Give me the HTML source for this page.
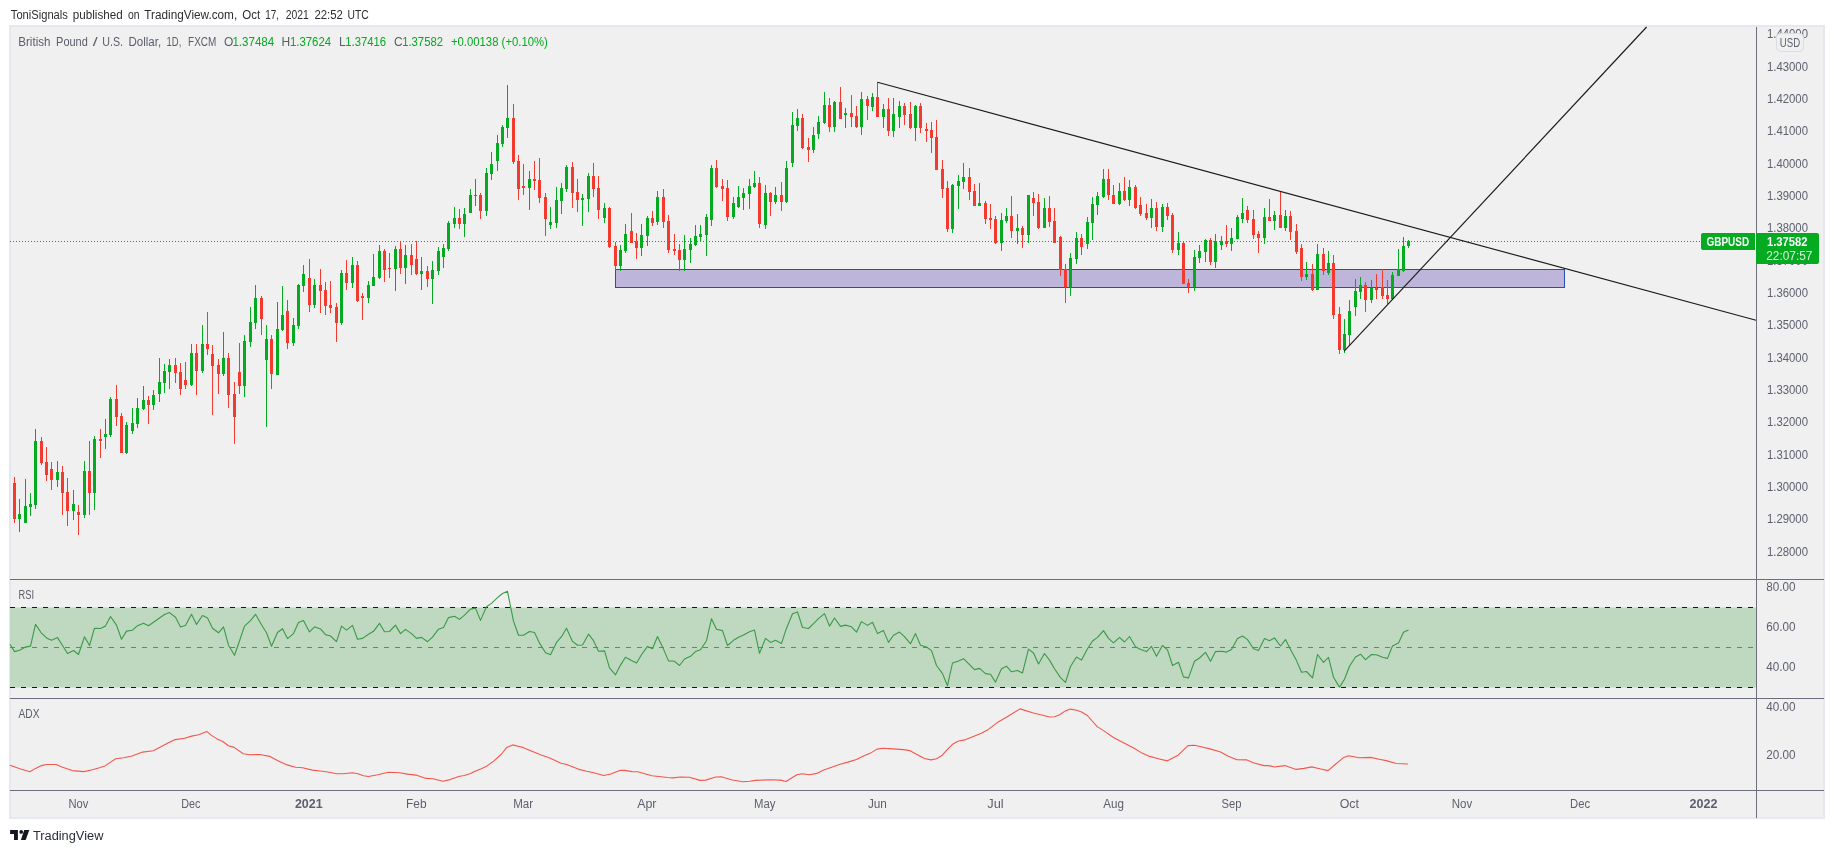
<!DOCTYPE html>
<html lang="en"><head><meta charset="utf-8"><title>GBPUSD chart</title>
<style>html,body{margin:0;padding:0;background:#fff;}body{width:1834px;height:853px;overflow:hidden;}svg{display:block;will-change:transform;}text{font-family:"Liberation Sans", sans-serif;font-size:12px;}</style></head><body>
<svg width="1834" height="853" viewBox="0 0 1834 853">
<rect x="0" y="0" width="1834" height="853" fill="#ffffff"/>
<g fill="#2e2e2e">
<text x="10.8" y="18.8" textLength="57.1" lengthAdjust="spacingAndGlyphs">ToniSignals</text>
<text x="72.8" y="18.8" textLength="49.9" lengthAdjust="spacingAndGlyphs">published</text>
<text x="127.9" y="18.8" textLength="11.6" lengthAdjust="spacingAndGlyphs">on</text>
<text x="144.3" y="18.8" textLength="92.9" lengthAdjust="spacingAndGlyphs">TradingView.com,</text>
<text x="242.3" y="18.8" textLength="17.9" lengthAdjust="spacingAndGlyphs">Oct</text>
<text x="265.3" y="18.8" textLength="13.8" lengthAdjust="spacingAndGlyphs">17,</text>
<text x="285.8" y="18.8" textLength="23.1" lengthAdjust="spacingAndGlyphs">2021</text>
<text x="314.4" y="18.8" textLength="28.5" lengthAdjust="spacingAndGlyphs">22:52</text>
<text x="347.6" y="18.8" textLength="21.2" lengthAdjust="spacingAndGlyphs">UTC</text>
</g>
<rect x="10" y="26" width="1814" height="792" fill="#f0f0f0" stroke="#e6e8ef" stroke-width="2"/>
<rect x="615.5" y="269.5" width="949" height="18" fill="#beb6da" stroke="#2450b4" stroke-width="1"/>
<path d="M14.5 477V523M41.5 437V465M46.5 447V481M51.5 462V490M62.5 466V515M67.5 478V526M78.5 505V535M89.5 441V515M100.5 429V458M116.5 385V426M121.5 413V453M148.5 396V424M175.5 358V383M180.5 363V395M185.5 362V389M196.5 344V395M207.5 312V355M212.5 345V415M218.5 359V394M228.5 353V408M234.5 382V444M239.5 343V394M261.5 296V335M271.5 335V389M287.5 300V349M309.5 259V312M320.5 269V313M325.5 282V315M330.5 281V313M336.5 303V342M346.5 260V290M357.5 261V302M362.5 293V320M384.5 249V282M389.5 253V278M400.5 241V274M411.5 244V275M416.5 241V275M427.5 266V287M459.5 209V229M480.5 193V219M513.5 104V164M518.5 155V200M523.5 164V195M534.5 161V190M539.5 158V203M545.5 193V236M572.5 162V208M577.5 179V212M593.5 163V197M598.5 176V219M609.5 207V248M615.5 242V270M631.5 213V243M636.5 233V259M652.5 211V226M663.5 189V228M668.5 215V253M674.5 234V255M679.5 244V271M716.5 160V188M722.5 179V201M727.5 180V221M759.5 177V228M770.5 192V216M781.5 182V211M802.5 114V149M808.5 138V162M829.5 98V132M840.5 87V119M851.5 95V127M856.5 106V128M867.5 96V120M877.5 82V117M888.5 98V136M904.5 103V125M910.5 102V129M920.5 103V133M926.5 123V142M931.5 122V153M936.5 120V170M942.5 160V198M947.5 181V232M969.5 168V200M974.5 184V206M985.5 201V224M990.5 204V229M995.5 216V244M1011.5 196V238M1022.5 226V248M1033.5 192V216M1038.5 194V229M1049.5 196V227M1054.5 208V243M1060.5 236V276M1065.5 264V303M1081.5 234V255M1108.5 169V200M1113.5 185V204M1124.5 177V201M1135.5 185V209M1140.5 197V216M1146.5 204V220M1156.5 202V231M1167.5 203V220M1172.5 213V253M1183.5 242V284M1188.5 279V293M1210.5 238V265M1226.5 225V247M1247.5 206V223M1253.5 210V239M1258.5 231V253M1269.5 199V221M1280.5 191V228M1290.5 211V240M1296.5 224V254M1301.5 244V281M1312.5 264V291M1323.5 248V275M1333.5 255V319M1339.5 307V354M1365.5 282V312M1376.5 274V299M1382.5 269V299M1387.5 280V304" stroke="#f23a2e" stroke-width="1" fill="none" shape-rendering="crispEdges"/>
<path d="M13 483h3v36h-3zM40 441h3v22h-3zM45 462h3v13h-3zM50 469h3v11h-3zM61 472h3v21h-3zM66 492h3v19h-3zM77 512h3v3h-3zM88 471h3v22h-3zM99 439h3v2h-3zM115 399h3v18h-3zM120 416h3v37h-3zM147 400h3v5h-3zM174 365h3v8h-3zM179 372h3v17h-3zM184 380h3v5h-3zM195 353h3v18h-3zM206 344h3v5h-3zM211 354h3v12h-3zM217 365h3v9h-3zM227 358h3v37h-3zM233 394h3v23h-3zM238 372h3v14h-3zM260 298h3v21h-3zM270 339h3v35h-3zM286 311h3v32h-3zM308 278h3v27h-3zM319 285h3v6h-3zM324 290h3v16h-3zM329 305h3v3h-3zM335 307h3v16h-3zM345 273h3v10h-3zM356 265h3v36h-3zM361 296h3v2h-3zM383 251h3v19h-3zM388 268h3v1h-3zM399 249h3v19h-3zM410 255h3v10h-3zM415 259h3v15h-3zM426 271h3v8h-3zM458 218h3v6h-3zM479 195h3v16h-3zM512 118h3v44h-3zM517 161h3v28h-3zM522 186h3v2h-3zM533 179h3v2h-3zM538 180h3v18h-3zM544 197h3v22h-3zM571 167h3v26h-3zM576 192h3v8h-3zM592 176h3v13h-3zM597 188h3v22h-3zM608 208h3v39h-3zM614 246h3v20h-3zM630 231h3v12h-3zM635 241h3v7h-3zM651 218h3v5h-3zM662 197h3v25h-3zM667 221h3v29h-3zM673 249h3v2h-3zM678 250h3v10h-3zM715 168h3v19h-3zM721 186h3v3h-3zM726 188h3v29h-3zM758 183h3v41h-3zM769 193h3v9h-3zM780 195h3v7h-3zM801 118h3v30h-3zM807 147h3v3h-3zM828 105h3v22h-3zM839 102h3v17h-3zM850 113h3v4h-3zM855 116h3v11h-3zM866 99h3v7h-3zM876 97h3v20h-3zM887 109h3v22h-3zM903 106h3v9h-3zM909 114h3v14h-3zM919 106h3v22h-3zM925 129h3v2h-3zM930 130h3v8h-3zM935 137h3v33h-3zM941 169h3v20h-3zM946 188h3v41h-3zM968 177h3v15h-3zM973 191h3v15h-3zM984 203h3v16h-3zM989 218h3v2h-3zM994 219h3v24h-3zM1010 216h3v15h-3zM1021 228h3v7h-3zM1032 198h3v5h-3zM1037 202h3v26h-3zM1048 208h3v14h-3zM1053 221h3v22h-3zM1059 237h3v33h-3zM1064 269h3v18h-3zM1080 238h3v9h-3zM1107 179h3v16h-3zM1112 195h3v9h-3zM1123 191h3v9h-3zM1134 187h3v21h-3zM1139 205h3v9h-3zM1145 213h3v5h-3zM1155 208h3v19h-3zM1166 207h3v9h-3zM1171 215h3v35h-3zM1182 243h3v41h-3zM1187 283h3v4h-3zM1209 240h3v22h-3zM1225 241h3v3h-3zM1246 210h3v10h-3zM1252 219h3v16h-3zM1257 234h3v4h-3zM1268 217h3v4h-3zM1279 215h3v13h-3zM1289 216h3v16h-3zM1295 231h3v21h-3zM1300 248h3v29h-3zM1311 274h3v16h-3zM1322 254h3v17h-3zM1332 263h3v52h-3zM1338 314h3v36h-3zM1364 285h3v15h-3zM1375 288h3v2h-3zM1381 287h3v9h-3zM1386 295h3v4h-3z" fill="#f23a2e" shape-rendering="crispEdges"/>
<path d="M19.5 499V532M25.5 479V523M30.5 493V516M35.5 429V509M57.5 461V487M73.5 490V520M84.5 461V518M94.5 436V510M105.5 419V449M110.5 397V437M126.5 422V454M132.5 408V434M137.5 398V428M143.5 386V410M153.5 390V410M159.5 358V402M164.5 364V393M169.5 359V389M191.5 344V386M202.5 325V373M223.5 332V376M244.5 335V397M250.5 307V347M255.5 285V329M266.5 325V427M277.5 302V375M282.5 286V331M293.5 318V346M298.5 284V329M303.5 265V292M314.5 279V308M341.5 270V325M352.5 257V288M368.5 281V303M373.5 254V286M379.5 245V279M395.5 246V291M405.5 245V284M421.5 257V290M432.5 261V304M438.5 247V275M443.5 244V268M448.5 221V251M454.5 207V228M464.5 208V237M470.5 189V213M475.5 179V206M486.5 168V216M491.5 152V180M497.5 135V171M502.5 125V147M507.5 85V138M529.5 171V210M550.5 207V229M556.5 187V228M561.5 183V214M566.5 165V192M582.5 194V226M588.5 173V212M604.5 203V223M620.5 245V271M625.5 224V253M641.5 224V256M647.5 216V246M657.5 191V225M684.5 235V271M690.5 238V263M695.5 225V246M700.5 225V242M706.5 214V256M711.5 165V226M733.5 197V219M738.5 186V208M743.5 188V210M749.5 179V209M754.5 171V188M765.5 185V229M775.5 187V204M786.5 161V203M792.5 112V167M797.5 109V131M813.5 127V153M818.5 116V139M824.5 92V124M834.5 101V132M845.5 108V128M861.5 92V135M872.5 93V111M883.5 104V128M893.5 98V137M899.5 101V128M915.5 105V141M952.5 184V233M958.5 175V209M963.5 163V189M979.5 183V206M1001.5 213V251M1006.5 208V223M1017.5 214V244M1028.5 195V243M1044.5 198V228M1070.5 253V296M1076.5 232V264M1087.5 217V249M1092.5 197V240M1097.5 192V215M1103.5 169V198M1119.5 183V205M1129.5 180V206M1151.5 199V228M1162.5 204V232M1178.5 232V255M1194.5 250V291M1199.5 245V263M1205.5 239V262M1215.5 234V268M1221.5 236V250M1231.5 228V251M1237.5 215V239M1242.5 198V223M1264.5 208V244M1274.5 211V230M1285.5 210V231M1306.5 262V280M1317.5 244V290M1328.5 251V275M1344.5 319V353M1349.5 300V346M1355.5 279V316M1360.5 277V299M1371.5 280V303M1392.5 272V300M1398.5 249V276M1403.5 237V272M1408.5 240V248" stroke="#04aa1f" stroke-width="1" fill="none" shape-rendering="crispEdges"/>
<path d="M18 514h3v5h-3zM24 506h3v17h-3zM29 504h3v3h-3zM34 441h3v64h-3zM56 472h3v8h-3zM72 504h3v7h-3zM83 471h3v44h-3zM93 439h3v54h-3zM104 434h3v3h-3zM109 399h3v36h-3zM125 425h3v28h-3zM131 423h3v8h-3zM136 408h3v16h-3zM142 400h3v9h-3zM152 395h3v10h-3zM158 382h3v12h-3zM163 371h3v12h-3zM168 365h3v7h-3zM190 353h3v32h-3zM201 344h3v27h-3zM222 358h3v16h-3zM243 341h3v45h-3zM249 322h3v20h-3zM254 298h3v25h-3zM265 339h3v21h-3zM276 329h3v46h-3zM281 315h3v15h-3zM292 325h3v18h-3zM297 285h3v41h-3zM302 274h3v12h-3zM313 285h3v20h-3zM340 273h3v50h-3zM351 265h3v18h-3zM367 285h3v13h-3zM372 277h3v9h-3zM378 251h3v27h-3zM394 249h3v20h-3zM404 255h3v13h-3zM420 271h3v3h-3zM431 270h3v9h-3zM437 251h3v20h-3zM442 248h3v9h-3zM447 223h3v26h-3zM453 218h3v6h-3zM463 214h3v10h-3zM469 195h3v18h-3zM474 195h3v1h-3zM485 173h3v38h-3zM490 164h3v10h-3zM496 143h3v18h-3zM501 127h3v17h-3zM506 118h3v10h-3zM528 179h3v9h-3zM549 222h3v3h-3zM555 200h3v23h-3zM560 188h3v13h-3zM565 167h3v22h-3zM581 198h3v2h-3zM587 176h3v23h-3zM603 208h3v10h-3zM619 250h3v16h-3zM624 234h3v17h-3zM640 235h3v13h-3zM646 218h3v18h-3zM656 197h3v25h-3zM683 249h3v11h-3zM689 244h3v6h-3zM694 236h3v9h-3zM699 234h3v3h-3zM705 217h3v18h-3zM710 168h3v52h-3zM732 203h3v14h-3zM737 197h3v10h-3zM742 193h3v5h-3zM748 186h3v8h-3zM753 183h3v4h-3zM764 193h3v32h-3zM774 195h3v7h-3zM785 168h3v34h-3zM791 125h3v38h-3zM796 118h3v8h-3zM812 135h3v15h-3zM817 122h3v12h-3zM823 105h3v18h-3zM833 102h3v25h-3zM844 113h3v2h-3zM860 99h3v28h-3zM871 97h3v10h-3zM882 109h3v8h-3zM892 114h3v17h-3zM898 106h3v11h-3zM914 106h3v22h-3zM951 185h3v44h-3zM957 181h3v5h-3zM962 177h3v5h-3zM978 203h3v3h-3zM1000 220h3v23h-3zM1005 216h3v5h-3zM1016 228h3v3h-3zM1027 195h3v40h-3zM1043 208h3v20h-3zM1069 258h3v29h-3zM1075 238h3v21h-3zM1086 222h3v22h-3zM1091 204h3v19h-3zM1096 196h3v9h-3zM1102 179h3v18h-3zM1118 191h3v13h-3zM1128 187h3v13h-3zM1150 208h3v10h-3zM1161 207h3v20h-3zM1177 243h3v7h-3zM1193 257h3v30h-3zM1198 251h3v7h-3zM1204 240h3v12h-3zM1214 241h3v21h-3zM1220 241h3v4h-3zM1230 238h3v6h-3zM1236 217h3v22h-3zM1241 213h3v6h-3zM1263 217h3v21h-3zM1273 215h3v6h-3zM1284 216h3v12h-3zM1305 274h3v3h-3zM1316 254h3v36h-3zM1327 263h3v10h-3zM1343 334h3v16h-3zM1348 311h3v24h-3zM1354 291h3v16h-3zM1359 285h3v7h-3zM1370 288h3v12h-3zM1391 275h3v24h-3zM1397 269h3v7h-3zM1402 246h3v25h-3zM1407 241h3v5h-3z" fill="#04aa1f" shape-rendering="crispEdges"/>
<path d="M10 241.5H1701" stroke="#04aa1f" stroke-width="1" stroke-dasharray="1 2" shape-rendering="crispEdges"/>
<g stroke="#1b1b1b" stroke-width="1.15" fill="none">
<line x1="877.5" y1="82.3" x2="1756" y2="320.2"/>
<line x1="1344.2" y1="351.2" x2="1646.6" y2="27"/>
</g>
<rect x="10" y="607.5" width="1746" height="80" fill="#bfd8c0"/>
<g stroke="#10180f" stroke-width="1" stroke-dasharray="5 6" shape-rendering="crispEdges">
<path d="M10 607.5H1756"/>
<path d="M10 687.5H1756"/>
</g>
<path d="M10 647.5H1756" stroke="#5f8a63" stroke-width="1" stroke-dasharray="5 6" shape-rendering="crispEdges"/>
<polyline fill="none" stroke="#3a9a48" stroke-width="1.1" stroke-linejoin="round" points="10,644.2 14.5,651.6 19.5,650.2 25.5,647.1 30.5,646.1 35.5,624.4 41.5,633.2 46.5,637.9 51.5,640.3 57.5,637.6 62.5,645.5 67.5,653.5 73.5,650.5 78.5,654.5 84.5,636.7 89.5,645.5 94.5,628.2 100.5,628.5 105.5,626.1 110.5,616.5 116.5,625.1 121.5,639.3 126.5,631.1 132.5,630.2 137.5,625.7 143.5,623.3 148.5,625.7 153.5,622.3 159.5,618.0 164.5,614.5 169.5,612.6 175.5,617.2 180.5,627.1 185.5,625.4 191.5,614.3 196.5,624.4 202.5,615.5 207.5,617.9 212.5,628.2 218.5,632.8 223.5,626.8 228.5,645.2 234.5,655.2 239.5,641.0 244.5,626.1 250.5,620.7 255.5,614.3 261.5,624.7 266.5,632.8 271.5,646.2 277.5,632.5 282.5,628.7 287.5,638.6 293.5,633.6 298.5,622.6 303.5,620.4 309.5,631.9 314.5,626.8 320.5,628.9 325.5,634.6 330.5,636.0 336.5,641.7 341.5,626.1 346.5,630.1 352.5,625.4 357.5,639.3 362.5,638.4 368.5,634.2 373.5,631.3 379.5,623.3 384.5,631.8 389.5,631.5 395.5,625.1 400.5,633.6 405.5,629.4 411.5,633.6 416.5,638.4 421.5,637.4 427.5,641.7 432.5,637.2 438.5,629.2 443.5,627.5 448.5,617.6 454.5,616.2 459.5,619.4 464.5,615.2 470.5,609.1 475.5,608.1 480.5,620.4 486.5,606.7 491.5,603.4 497.5,597.7 502.5,593.5 507.5,591.3 513.5,621.1 518.5,635.3 523.5,635.3 529.5,631.5 534.5,632.5 539.5,643.1 545.5,652.8 550.5,654.8 556.5,642.4 561.5,636.7 566.5,628.2 572.5,641.4 577.5,645.2 582.5,645.0 588.5,634.2 593.5,640.7 598.5,651.3 604.5,650.9 609.5,667.9 615.5,674.8 620.5,665.1 625.5,657.3 631.5,660.6 636.5,663.0 641.5,654.8 647.5,646.4 652.5,648.8 657.5,636.5 663.5,649.1 668.5,660.9 674.5,661.3 679.5,665.5 684.5,659.0 690.5,656.3 695.5,651.6 700.5,649.8 706.5,640.7 711.5,618.7 716.5,629.2 722.5,630.6 727.5,645.5 733.5,640.3 738.5,637.2 743.5,635.0 749.5,631.8 754.5,630.1 759.5,653.3 765.5,638.4 770.5,642.4 775.5,640.3 781.5,643.4 786.5,628.2 792.5,613.8 797.5,611.9 802.5,627.5 808.5,628.5 813.5,623.7 818.5,618.7 824.5,613.6 829.5,626.1 834.5,618.0 840.5,626.4 845.5,625.1 851.5,626.8 856.5,632.2 861.5,621.6 867.5,625.4 872.5,622.3 877.5,633.6 883.5,630.6 888.5,642.4 893.5,635.3 899.5,632.1 904.5,636.7 910.5,643.8 915.5,633.6 920.5,645.2 926.5,647.0 931.5,650.6 936.5,665.5 942.5,673.6 947.5,685.7 952.5,663.0 958.5,660.9 963.5,658.7 969.5,664.7 974.5,669.6 979.5,668.4 985.5,673.6 990.5,674.3 995.5,682.1 1001.5,668.7 1006.5,666.2 1011.5,671.8 1017.5,670.5 1022.5,672.9 1028.5,649.1 1033.5,653.0 1038.5,664.0 1044.5,653.5 1049.5,660.1 1054.5,668.7 1060.5,677.6 1065.5,682.4 1070.5,666.5 1076.5,657.0 1081.5,660.1 1087.5,648.8 1092.5,641.0 1097.5,637.4 1103.5,630.6 1108.5,638.4 1113.5,642.8 1119.5,637.4 1124.5,642.0 1129.5,636.5 1135.5,646.7 1140.5,649.5 1146.5,651.6 1151.5,646.4 1156.5,656.2 1162.5,645.5 1167.5,649.8 1172.5,665.5 1178.5,662.3 1183.5,676.9 1188.5,677.9 1194.5,661.3 1199.5,658.0 1205.5,652.3 1210.5,661.3 1215.5,651.6 1221.5,651.3 1226.5,652.1 1231.5,649.5 1237.5,638.4 1242.5,636.0 1247.5,639.6 1253.5,648.8 1258.5,650.6 1264.5,638.6 1269.5,640.7 1274.5,637.9 1280.5,646.0 1285.5,639.6 1290.5,649.5 1296.5,660.6 1301.5,672.2 1306.5,671.5 1312.5,677.9 1317.5,654.5 1323.5,662.3 1328.5,657.3 1333.5,677.2 1339.5,687.1 1344.5,679.3 1349.5,666.2 1355.5,657.0 1360.5,654.2 1365.5,659.7 1371.5,654.5 1376.5,654.8 1382.5,657.3 1387.5,658.4 1392.5,646.0 1398.5,643.1 1403.5,632.2 1408.5,630.1"/>
<polyline fill="none" stroke="#f4564c" stroke-width="1.1" stroke-linejoin="round" points="10,765.2 19.9,768.7 29.9,771.7 35.5,768.4 41.5,765.6 46.5,764.5 56.1,764.5 62.5,767.3 72.4,770.6 83.8,771.6 92.3,769.7 99.4,767.7 105.0,765.9 110.7,762.1 115.7,758.8 123.5,757.8 132.0,756.0 142.6,752.1 153.3,750.7 160.4,747.0 168.9,742.5 175.2,739.6 184.5,738.2 191.6,736.1 198.7,734.7 206.7,731.4 211.4,735.4 217.1,738.9 222.8,741.5 228.4,745.7 234.1,747.4 243.3,753.8 249.7,754.8 259.6,754.5 270.0,756.4 278.4,760.9 287.0,764.9 295.5,767.3 302.6,767.7 312.5,770.1 322.4,771.3 329.5,772.3 336.6,773.7 343.7,773.7 352.2,772.7 357.9,773.7 363.5,775.8 368.5,776.5 377.7,774.7 388.4,772.3 399.7,772.7 407.5,774.1 416.0,775.1 426.0,778.4 433.0,778.7 443.0,781.2 450.1,779.6 458.6,776.5 464.3,775.5 469.9,773.7 475.6,770.9 481.3,768.7 487.0,765.9 494.0,760.9 501.1,754.5 506.8,747.4 512.8,744.9 520.0,746.7 522.8,747.4 531.3,751.0 539.8,754.5 549.7,758.1 561.1,763.3 566.7,764.5 578.1,769.1 586.6,771.3 593.7,772.7 603.6,775.5 610.7,774.0 619.9,770.4 624.9,770.4 632.0,771.6 637.7,771.8 644.8,773.7 651.8,775.8 658.9,776.5 667.4,777.5 673.1,777.9 680.2,777.0 689.4,777.2 700.1,780.4 705.7,780.1 715.7,777.0 721.3,776.8 731.3,779.8 742.6,781.8 749.7,781.2 755.4,780.4 769.9,779.8 780.6,780.1 786.0,781.5 791.2,778.2 796.9,774.7 801.8,773.7 809.6,774.7 816.7,773.4 823.8,769.9 832.3,767.0 840.1,764.2 847.9,762.1 856.5,759.5 863.5,756.0 870.6,753.1 877.0,749.1 882.7,748.2 893.3,748.9 903.3,749.6 909.6,750.6 916.0,754.1 924.5,758.5 930.9,759.9 936.6,758.8 942.3,755.2 947.2,749.6 952.2,744.6 957.9,741.3 965.7,739.6 972.8,736.8 981.3,733.3 988.4,729.4 998.3,721.9 1006.8,717.0 1020.0,708.9 1033.4,713.0 1042.6,715.2 1049.7,717.0 1054.7,716.7 1059.6,714.8 1065.3,710.9 1070.3,709.1 1076.7,710.3 1081.6,712.0 1087.3,715.5 1097.2,726.6 1104.3,731.1 1113.5,737.5 1123.5,742.8 1134.1,748.2 1141.9,753.1 1149.7,756.4 1157.5,758.5 1167.0,760.9 1178.1,755.2 1188.0,745.6 1194.4,745.3 1200.1,746.5 1210.0,748.9 1220.6,752.0 1227.7,756.0 1237.0,759.8 1246.9,759.9 1254.0,763.0 1263.9,765.6 1267.1,765.5 1270.0,765.9 1274.2,767.0 1284.8,765.6 1296.2,769.4 1304.0,768.4 1311.8,766.9 1319.6,768.7 1328.1,770.6 1335.2,764.5 1343.7,757.4 1348.7,755.7 1359.3,757.7 1370.6,757.4 1379.1,759.2 1386.2,760.6 1396.2,763.5 1407.9,764.0"/>
<g stroke="#6c6e7d" stroke-width="1" shape-rendering="crispEdges">
<path d="M10 579.5H1824"/>
<path d="M10 698.5H1824"/>
<path d="M10 790.5H1824"/>
<path d="M1756.5 27V818"/>
</g>
<g fill="#5d606f">
<text x="1767" y="37.9" textLength="41" lengthAdjust="spacingAndGlyphs">1.44000</text>
<text x="1767" y="70.7" textLength="41" lengthAdjust="spacingAndGlyphs">1.43000</text>
<text x="1767" y="103.0" textLength="41" lengthAdjust="spacingAndGlyphs">1.42000</text>
<text x="1767" y="135.3" textLength="41" lengthAdjust="spacingAndGlyphs">1.41000</text>
<text x="1767" y="167.7" textLength="41" lengthAdjust="spacingAndGlyphs">1.40000</text>
<text x="1767" y="200.0" textLength="41" lengthAdjust="spacingAndGlyphs">1.39000</text>
<text x="1767" y="232.3" textLength="41" lengthAdjust="spacingAndGlyphs">1.38000</text>
<text x="1767" y="264.6" textLength="41" lengthAdjust="spacingAndGlyphs">1.37000</text>
<text x="1767" y="296.9" textLength="41" lengthAdjust="spacingAndGlyphs">1.36000</text>
<text x="1767" y="329.3" textLength="41" lengthAdjust="spacingAndGlyphs">1.35000</text>
<text x="1767" y="361.6" textLength="41" lengthAdjust="spacingAndGlyphs">1.34000</text>
<text x="1767" y="393.9" textLength="41" lengthAdjust="spacingAndGlyphs">1.33000</text>
<text x="1767" y="426.2" textLength="41" lengthAdjust="spacingAndGlyphs">1.32000</text>
<text x="1767" y="458.5" textLength="41" lengthAdjust="spacingAndGlyphs">1.31000</text>
<text x="1767" y="490.9" textLength="41" lengthAdjust="spacingAndGlyphs">1.30000</text>
<text x="1767" y="523.2" textLength="41" lengthAdjust="spacingAndGlyphs">1.29000</text>
<text x="1767" y="555.5" textLength="41" lengthAdjust="spacingAndGlyphs">1.28000</text>
<text x="1766.3" y="590.9" textLength="29.3" lengthAdjust="spacingAndGlyphs">80.00</text>
<text x="1766.3" y="630.9" textLength="29.3" lengthAdjust="spacingAndGlyphs">60.00</text>
<text x="1766.3" y="671.2" textLength="29.3" lengthAdjust="spacingAndGlyphs">40.00</text>
<text x="1766.3" y="710.7" textLength="29.3" lengthAdjust="spacingAndGlyphs">40.00</text>
<text x="1766.3" y="758.8" textLength="29.3" lengthAdjust="spacingAndGlyphs">20.00</text>
</g>
<rect x="1776.5" y="33.5" width="27" height="18" rx="4" fill="#f0f0f0" stroke="#d9dbe5"/>
<text x="1779.8" y="46.9" textLength="20.3" lengthAdjust="spacingAndGlyphs" fill="#5d606f">USD</text>
<path d="M1703 233H1755V250H1703a2 2 0 0 1 -2 -2V235a2 2 0 0 1 2 -2z" fill="#04aa1f"/>
<text x="1706.6" y="245.9" textLength="42.5" lengthAdjust="spacingAndGlyphs" fill="#ffffff" font-weight="bold">GBPUSD</text>
<path d="M1756 233H1817a2 2 0 0 1 2 2V262a2 2 0 0 1 -2 2H1756z" fill="#04aa1f"/>
<text x="1767" y="245.9" textLength="40.5" lengthAdjust="spacingAndGlyphs" fill="#ffffff" font-weight="bold">1.37582</text>
<text x="1766.2" y="260" textLength="46.2" lengthAdjust="spacingAndGlyphs" fill="#d8f3dc">22:07:57</text>
<text x="18.3" y="46.1" textLength="32.1" lengthAdjust="spacingAndGlyphs" fill="#5a5d6b">British</text>
<text x="56.1" y="46.1" textLength="31.7" lengthAdjust="spacingAndGlyphs" fill="#5a5d6b">Pound</text>
<text x="92.8" y="46.1" textLength="5.0" lengthAdjust="spacingAndGlyphs" fill="#5a5d6b">/</text>
<text x="102.2" y="46.1" textLength="20.8" lengthAdjust="spacingAndGlyphs" fill="#5a5d6b">U.S.</text>
<text x="128.4" y="46.1" textLength="32.7" lengthAdjust="spacingAndGlyphs" fill="#5a5d6b">Dollar,</text>
<text x="166.5" y="46.1" textLength="14.8" lengthAdjust="spacingAndGlyphs" fill="#5a5d6b">1D,</text>
<text x="188.1" y="46.1" textLength="28.2" lengthAdjust="spacingAndGlyphs" fill="#5a5d6b">FXCM</text>
<text x="224" y="46.1" fill="#5a5d6b">O</text>
<text x="232.4" y="46.1" textLength="41.8" lengthAdjust="spacingAndGlyphs" fill="#04aa1f">1.37484</text>
<text x="281.5" y="46.1" fill="#5a5d6b">H</text>
<text x="289.9" y="46.1" textLength="41.2" lengthAdjust="spacingAndGlyphs" fill="#04aa1f">1.37624</text>
<text x="339" y="46.1" fill="#5a5d6b">L</text>
<text x="345.3" y="46.1" textLength="40.8" lengthAdjust="spacingAndGlyphs" fill="#04aa1f">1.37416</text>
<text x="394" y="46.1" fill="#5a5d6b">C</text>
<text x="402.2" y="46.1" textLength="40.8" lengthAdjust="spacingAndGlyphs" fill="#04aa1f">1.37582</text>
<text x="450.9" y="46.1" textLength="97" lengthAdjust="spacingAndGlyphs" fill="#04aa1f">+0.00138 (+0.10%)</text>
<text x="18.5" y="598.8" textLength="15.5" lengthAdjust="spacingAndGlyphs" fill="#5a5d6b">RSI</text>
<text x="18.5" y="717.8" textLength="21" lengthAdjust="spacingAndGlyphs" fill="#5a5d6b">ADX</text>
<g fill="#5d606f">
<text x="68.5" y="807.9" textLength="19.9" lengthAdjust="spacingAndGlyphs">Nov</text>
<text x="181.2" y="807.9" textLength="19.2" lengthAdjust="spacingAndGlyphs">Dec</text>
<text x="294.9" y="807.9" textLength="27.8" lengthAdjust="spacingAndGlyphs" font-weight="bold">2021</text>
<text x="406.0" y="807.9" textLength="20.5" lengthAdjust="spacingAndGlyphs">Feb</text>
<text x="513.2" y="807.9" textLength="19.9" lengthAdjust="spacingAndGlyphs">Mar</text>
<text x="637.2" y="807.9" textLength="19.3" lengthAdjust="spacingAndGlyphs">Apr</text>
<text x="754.0" y="807.9" textLength="21.4" lengthAdjust="spacingAndGlyphs">May</text>
<text x="867.9" y="807.9" textLength="19.0" lengthAdjust="spacingAndGlyphs">Jun</text>
<text x="987.3" y="807.9" textLength="16.4" lengthAdjust="spacingAndGlyphs">Jul</text>
<text x="1103.2" y="807.9" textLength="20.7" lengthAdjust="spacingAndGlyphs">Aug</text>
<text x="1221.6" y="807.9" textLength="20.0" lengthAdjust="spacingAndGlyphs">Sep</text>
<text x="1339.7" y="807.9" textLength="19.3" lengthAdjust="spacingAndGlyphs">Oct</text>
<text x="1451.8" y="807.9" textLength="20.4" lengthAdjust="spacingAndGlyphs">Nov</text>
<text x="1570.1" y="807.9" textLength="20.0" lengthAdjust="spacingAndGlyphs">Dec</text>
<text x="1689.5" y="807.9" textLength="27.9" lengthAdjust="spacingAndGlyphs" font-weight="bold">2022</text>
</g>
<g fill="#131722">
<path d="M10.1 830H17.9V839.9H14V833.9H10.1z"/><circle cx="21.2" cy="831.9" r="1.85"/><path d="M24.2 830H29.3L25.7 839.9H20.9z"/>
</g>
<text x="32.9" y="839.9" textLength="70.5" lengthAdjust="spacingAndGlyphs" fill="#2a2e39" font-size="12.6">TradingView</text>
</svg></body></html>
